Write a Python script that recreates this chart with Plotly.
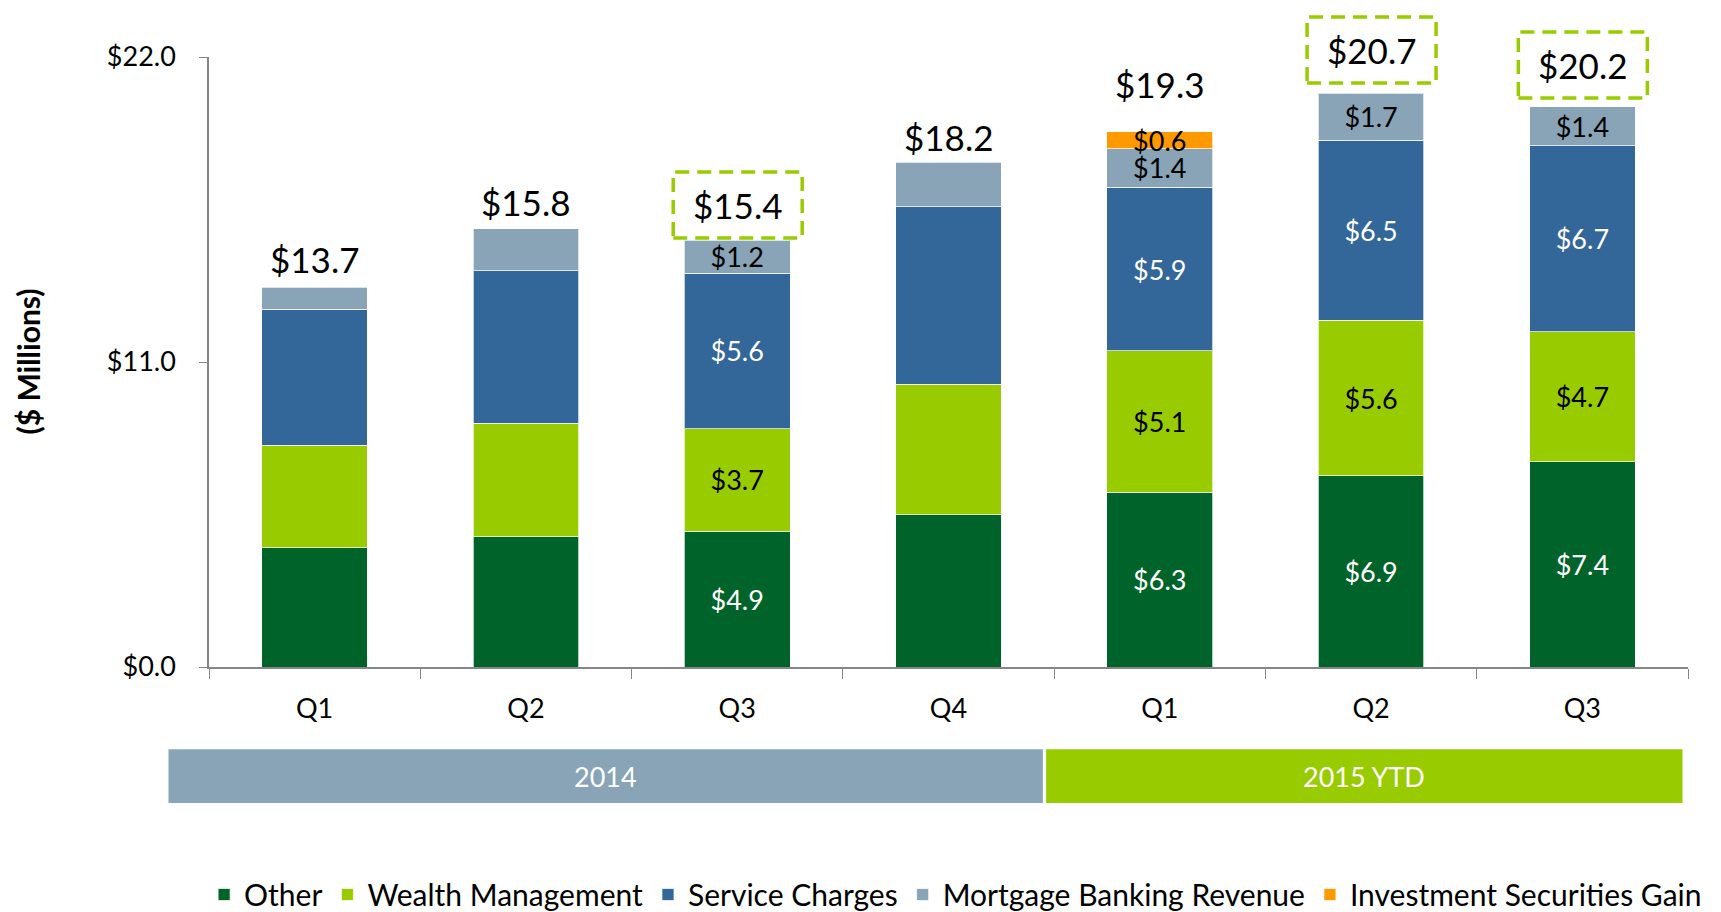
import plotly.graph_objects as go

# ---------------- data ----------------
cat_ids = ["2014 Q1", "2014 Q2", "2014 Q3", "2014 Q4", "2015 Q1", "2015 Q2", "2015 Q3"]
quarter_labels = ["Q1", "Q2", "Q3", "Q4", "Q1", "Q2", "Q3"]

other = [4.3, 4.7, 4.9, 5.5, 6.3, 6.9, 7.4]
wealth = [3.7, 4.1, 3.7, 4.7, 5.1, 5.6, 4.7]
service = [4.9, 5.5, 5.6, 6.4, 5.9, 6.5, 6.7]
mortgage = [0.8, 1.5, 1.2, 1.6, 1.4, 1.7, 1.4]
invest = [0, 0, 0, 0, 0.6, 0, 0]
totals = [13.7, 15.8, 15.4, 18.2, 19.3, 20.7, 20.2]

y_ticks = [0.0, 11.0, 22.0]

# which bars show segment labels / which totals are boxed
show_seg = [False, False, True, False, True, True, True]
boxed = [False, False, True, False, False, True, True]

year_groups = ["2014", "2015 YTD"]

# ---------------- style ----------------
C_OTHER = "#006329"
C_WEALTH = "#99CC00"
C_SERVICE = "#336699"
C_MORT = "#88A4B6"
C_INV = "#FF9900"
FONT = "Lato"
label_shift_px = [28, 27, 35, 25, 48, 43, 42]   # total label offset above bar top

def seg_text(vals, show):
    return [f"${v:.1f}" if (s and v) else "" for v, s in zip(vals, show)]

series = [
    ("Other", other, C_OTHER, "white"),
    ("Wealth Management", wealth, C_WEALTH, "black"),
    ("Service Charges", service, C_SERVICE, "white"),
    ("Mortgage Banking Revenue", mortgage, C_MORT, "black"),
    ("Investment Securities Gain", invest, C_INV, "black"),
]

fig = go.Figure()
for name, vals, col, tcol in series:
    fig.add_trace(go.Bar(
        name=name, x=cat_ids, y=[v if v else None for v in vals],
        marker=dict(color=col, line=dict(color="rgba(255,255,255,0.7)", width=1)),
        text=seg_text(vals, show_seg), textposition="inside",
        insidetextanchor="middle", textangle=0, constraintext="none",
        insidetextfont=dict(family=FONT, size=27, color=tcol),
        hoverinfo="skip",
    ))

# the page body adds an 8px offset; margins compensate for it
W, H = 1721, 912
L, R, T, B = 200.5, 41, 49, 252.7
ymax = 22.0
annotations = []
shapes = []
n = len(cat_ids)
for i, (tot, bx) in enumerate(zip(totals, boxed)):
    shift = label_shift_px[i]
    annotations.append(dict(
        x=cat_ids[i], y=tot, xref="x", yref="y", text=f"${tot:.1f}",
        showarrow=False, yshift=shift, yanchor="middle",
        font=dict(family=FONT, size=35, color="black")))
    if bx:
        shapes.append(dict(
            type="rect", xref="paper", yref="paper",
            xsizemode="pixel", ysizemode="pixel",
            xanchor=(i + 0.5) / n, yanchor=tot / ymax,
            x0=-64, x1=65, y0=shift - 33, y1=shift + 33,
            line=dict(color=C_WEALTH, width=3.5, dash="14px,8px"),
            fillcolor="rgba(0,0,0,0)", layer="above"))

# year banners
banners = [(year_groups[0], -0.0274, 0.5638, C_MORT), (year_groups[1], 0.5660, 0.9963, C_WEALTH)]
for label, x0, x1, col in banners:
    shapes.append(dict(type="rect", xref="paper", yref="paper", x0=x0, x1=x1,
                       y0=-0.223, y1=-0.135, fillcolor=col, line=dict(width=0), layer="above"))
    annotations.append(dict(x=(x0 + x1) / 2, y=-0.179, xref="paper", yref="paper",
                            text=label, showarrow=False, yanchor="middle", xanchor="center",
                            font=dict(family=FONT, size=27, color="white")))

annotations.append(dict(x=-0.1227, y=0.5, xref="paper", yref="paper",
                        text="<b>($ Millions)</b>", textangle=-90, showarrow=False,
                        xanchor="center", yanchor="middle",
                        font=dict(family=FONT, size=30, color="black")))

fig.update_layout(
    width=W, height=H, barmode="stack", bargap=0.5,
    plot_bgcolor="white", paper_bgcolor="white",
    margin=dict(l=L, r=R, t=T, b=B, autoexpand=False),
    font=dict(family=FONT, color="black"),
    showlegend=True,
    legend=dict(orientation="h", x=-0.0033, xanchor="left", y=-0.373, yanchor="middle",
                font=dict(family=FONT, size=30, color="black"), traceorder="normal",
                itemclick=False, tracegroupgap=0),
    annotations=annotations, shapes=shapes,
)
fig.update_xaxes(
    type="category", categoryarray=cat_ids, tickvals=cat_ids, ticktext=quarter_labels,
    tickson="boundaries", ticks="outside", ticklen=10, tickcolor="#868686",
    showline=True, linecolor="#868686", linewidth=1.5, showgrid=False, automargin=False,
    tickfont=dict(family=FONT, size=27, color="black"), ticklabelstandoff=17,
)
fig.update_yaxes(
    range=[0, ymax], tickvals=y_ticks, ticktext=[f"${v:.1f}" for v in y_ticks],
    ticks="outside", ticklen=8, tickcolor="#868686", automargin=False,
    showline=True, linecolor="#868686", linewidth=1.5, showgrid=False, zeroline=False,
    tickfont=dict(family=FONT, size=27, color="black"), ticklabelstandoff=18,
)

fig.write_html("out.html")
